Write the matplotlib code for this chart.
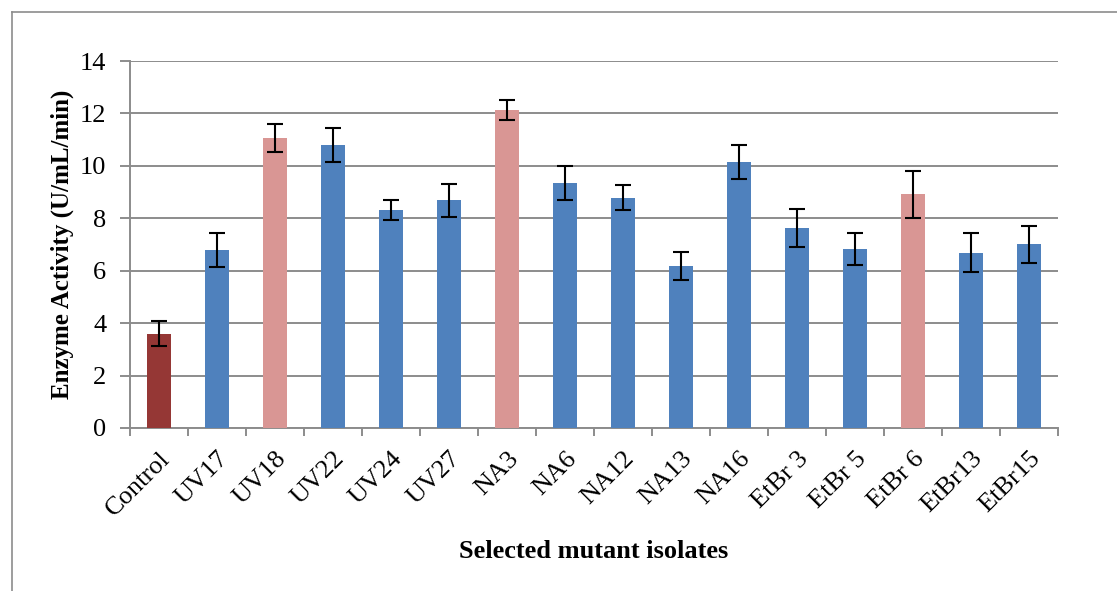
import numpy as np
import matplotlib.pyplot as plt
from matplotlib.lines import Line2D

# data
isolates = ["Control", "UV17", "UV18", "UV22", "UV24", "UV27", "NA3", "NA6",
            "NA12", "NA13", "NA16", "EtBr 3", "EtBr 5", "EtBr 6", "EtBr13", "EtBr15"]
activity = [3.6, 6.8, 11.05, 10.8, 8.3, 8.68, 12.14, 9.34,
            8.79, 6.19, 10.15, 7.62, 6.82, 8.92, 6.69, 7.01]
errors = [0.47, 0.65, 0.54, 0.65, 0.38, 0.64, 0.38, 0.64,
          0.49, 0.54, 0.66, 0.73, 0.61, 0.9, 0.74, 0.7]
bar_colors = ["#953735", "#4F81BD", "#D99694", "#4F81BD", "#4F81BD", "#4F81BD", "#D99694", "#4F81BD",
              "#4F81BD", "#4F81BD", "#4F81BD", "#4F81BD", "#4F81BD", "#D99694", "#4F81BD", "#4F81BD"]

plt.rcParams['font.family'] = ['Liberation Serif', 'DejaVu Serif']

fig = plt.figure(figsize=(11.17, 5.91), dpi=100)
ax = fig.add_axes([130/1117, 1-428/591, (1058-130)/1117, (428-61)/591])

x = np.arange(len(isolates))
ax.bar(x, activity, width=0.4, color=bar_colors, zorder=3)
ax.errorbar(x, activity, yerr=errors, fmt='none', ecolor='black',
            elinewidth=1.5, capsize=5.5, capthick=1.5, zorder=4)

ax.set_xlim(-0.5, len(isolates) - 0.5)
ax.set_ylim(0, 14)
ax.set_yticks(range(0, 15, 2))
ax.yaxis.grid(True, color='#8c8c8c', linewidth=1.4, zorder=0)

ax.set_xticks(x)
ax.set_xticklabels(isolates, rotation=45, ha='right', rotation_mode='anchor', fontsize=19)
ax.tick_params(axis='x', which='major', length=0, pad=14)
ax.set_xticks(np.arange(-0.5, len(isolates)), minor=True)
ax.tick_params(axis='x', which='minor', length=6, color='#8c8c8c', width=1.4)
ax.tick_params(axis='y', labelsize=19, length=7, color='#8c8c8c', width=1.4, pad=10)

for s in ['top', 'right']:
    ax.spines[s].set_visible(False)
for s in ['left', 'bottom']:
    ax.spines[s].set_color('#8c8c8c')
    ax.spines[s].set_linewidth(1.4)

ax.set_ylabel("Enzyme Activity (U/mL/min)", fontsize=18, fontweight='bold', labelpad=4)
ax.set_xlabel("Selected mutant isolates", fontsize=19, fontweight='bold', labelpad=14)

# outer chart border
fig.add_artist(Line2D([12/1117, 12/1117], [0, 1-12/591], color='#8c8c8c', lw=1.2))
fig.add_artist(Line2D([12/1117, 1], [1-12/591, 1-12/591], color='#8c8c8c', lw=1.2))

fig.savefig("out.png", dpi=100)
